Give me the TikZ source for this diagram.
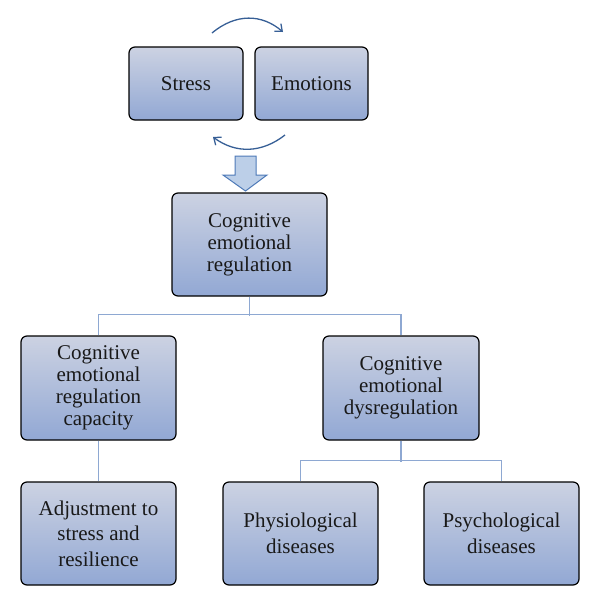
\documentclass[tikz,border=0pt]{standalone}
\usepackage{fontspec}
\setmainfont{Liberation Serif}
\usetikzlibrary{arrows.meta}
\definecolor{boxtop}{RGB}{204,210,226}
\definecolor{boxbot}{RGB}{146,168,212}
\definecolor{conn}{RGB}{142,168,210}
\definecolor{curv}{RGB}{55,95,150}
\definecolor{bafill}{RGB}{188,207,232}
\definecolor{badraw}{RGB}{78,122,184}
\definecolor{txt}{RGB}{25,25,25}
\tikzset{
  box/.style={draw=black, line width=1.2pt, rounded corners=6pt,
    top color=boxtop, bottom color=boxbot, align=center, text=txt,
    font=\fontsize{21}{22}\selectfont, inner sep=0pt},
  loosebox/.style={box, font=\fontsize{21}{25.5}\selectfont},
  link/.style={draw=conn, line width=1.3pt},
  curvearrow/.style={draw=curv, line width=1.3pt, -{Straight Barb[length=6pt,width=10pt]}},
}
\begin{document}
\begin{tikzpicture}[x=1pt,y=-1pt]
\useasboundingbox (0,0) rectangle (600,606);
\node[box, minimum width=114pt, minimum height=73pt] (stress) at (186,83.5) {Stress};
\node[box, minimum width=113pt, minimum height=73pt] (emo) at (311.5,83.5) {Emotions};
\node[box, minimum width=155pt, minimum height=103pt] (cer) at (249.5,244.5) {Cognitive\\emotional\\regulation};
\node[box, minimum width=155pt, minimum height=104pt] (cap) at (98.5,388) {Cognitive\\emotional\\regulation\\capacity};
\node[box, minimum width=156pt, minimum height=104pt] (dys) at (401,388) {Cognitive\\emotional\\dysregulation};
\node[loosebox, minimum width=155pt, minimum height=103pt] (adj) at (98.5,533.5) {Adjustment to\\stress and\\resilience};
\node[loosebox, minimum width=155pt, minimum height=103pt] (phys) at (300.5,533.5) {Physiological\\diseases};
\node[loosebox, minimum width=155pt, minimum height=103pt] (psych) at (501.5,533.5) {Psychological\\diseases};
% curved arrows
\coordinate (ta) at (212,33);
\coordinate (tb) at (283,32);
\coordinate (ba) at (285,135);
\coordinate (bb) at (213,137);
\draw[curvearrow] (ta) .. controls (236,13) and (262,14) .. (tb);
\draw[curvearrow] (ba) .. controls (262,153) and (236,154) .. (bb);
% block arrow
\filldraw[fill=bafill, draw=badraw, line width=1pt, line join=miter]
  (235,156) -- (256,156) -- (256,175) -- (267,175) -- (245.5,191) -- (223,175) -- (235,175) -- cycle;
% connectors
\draw[link] (cer.south) -- ++(0,19);
\draw[link] (cap.north) -- ++(0,-21) -| (dys.north);
\draw[link] (cap.south) -- (adj.north);
\draw[link] (dys.south) -- ++(0,21);
\draw[link] (phys.north) -- ++(0,-21) -| (psych.north);
\end{tikzpicture}
\end{document}
